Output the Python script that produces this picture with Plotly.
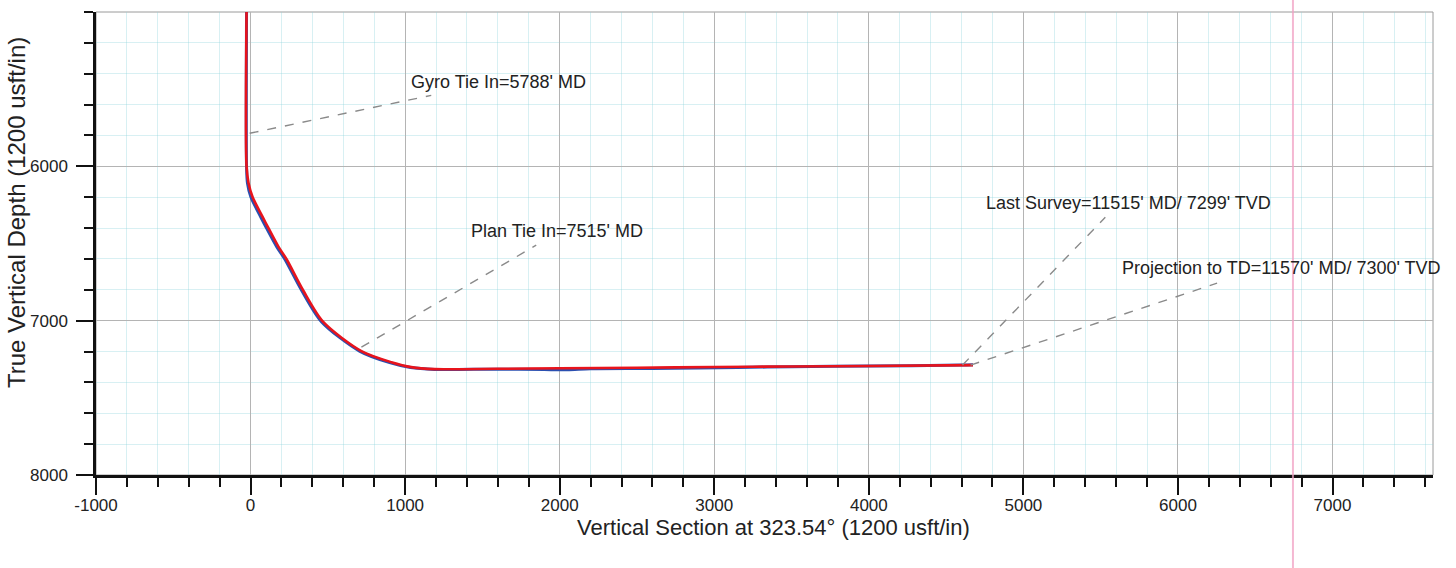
import plotly.graph_objects as go

# ---- data ----
plan_vs = [-26, -26, -13, 13, 78, 116, 181, 233, 340, 470, 717, 911, 1040, 1190,
           1600, 2000, 2500, 3000, 3500, 4000, 4674]
plan_tvd = [5000, 6000, 6110, 6199, 6328, 6401, 6522, 6602, 6803, 7008, 7197, 7269, 7301, 7314,
            7312, 7308, 7305, 7300, 7297, 7294, 7288]

survey_vs = [-26, -26, -20, 2, 66, 104, 170, 222, 330, 460, 705, 900, 1035, 1190,
             1600, 1900, 2050, 2200, 2600, 2900, 3150, 3500, 4000, 4600, 4674]
survey_tvd = [5000, 6000, 6110, 6199, 6328, 6401, 6522, 6602, 6803, 7008, 7197, 7272, 7304, 7316,
              7314, 7317, 7318, 7312, 7310, 7306, 7304, 7298, 7294, 7288, 7286]

callout_labels = ["Gyro Tie In=5788' MD", "Plan Tie In=7515' MD",
                  "Last Survey=11515' MD/ 7299' TVD", "Projection to TD=11570' MD/ 7300' TVD"]
callout_pt_x = [-6, 717, 4606, 4658]
callout_pt_y = [5786, 7172, 7288, 7288]
callout_end_x = [1169, 1848, 5530, 6253]
callout_end_y = [5540, 6511, 6330, 6757]
label_x = [1027, 1415, 4742, 5627]
label_y = [5456, 6421, 6239, 6660]

x_tickvals = [-1000, 0, 1000, 2000, 3000, 4000, 5000, 6000, 7000]
x_ticktext = ["-1000", "0", "1000", "2000", "3000", "4000", "5000", "6000", "7000"]
y_tickvals = [6000, 7000, 8000]
y_ticktext = ["6000", "7000", "8000"]

x_range = [-1000, 7650]
y_range = [8000, 5000]
scan_line_x = 6744

FONT = "Liberation Sans, Arial, sans-serif"
TXT = "#222222"

fig = go.Figure()
fig.add_trace(go.Scatter(x=survey_vs, y=survey_tvd, mode="lines",
                         line=dict(color="#2a4fb0", width=3, shape="spline", smoothing=0.8),
                         showlegend=False))
fig.add_trace(go.Scatter(x=plan_vs, y=plan_tvd, mode="lines",
                         line=dict(color="#e8141c", width=2.6, shape="spline", smoothing=0.8),
                         showlegend=False))

shapes = []
shapes.append(dict(type="rect", xref="paper", yref="paper", x0=0, x1=1, y0=0, y1=1,
                   line=dict(color="#9a9a9a", width=1), layer="below"))
for i in range(len(callout_labels)):
    shapes.append(dict(type="line", xref="x", yref="y",
                       x0=callout_pt_x[i], y0=callout_pt_y[i],
                       x1=callout_end_x[i], y1=callout_end_y[i],
                       line=dict(color="#8a8a8a", width=1.4, dash="dash")))
shapes.append(dict(type="line", xref="x", yref="paper", x0=scan_line_x, x1=scan_line_x,
                   y0=-0.21, y1=1.03, line=dict(color="rgba(240,160,195,0.75)", width=2)))

annotations = []
for i, t in enumerate(callout_labels):
    annotations.append(dict(x=label_x[i], y=label_y[i], xref="x", yref="y", text=t,
                            showarrow=False, xanchor="left", yanchor="middle",
                            font=dict(family=FONT, size=18, color=TXT)))
annotations.append(dict(x=0.507, y=-0.114, xref="paper", yref="paper",
                        text="Vertical Section at 323.54° (1200 usft/in)", showarrow=False,
                        xanchor="center", yanchor="middle",
                        font=dict(family=FONT, size=22, color=TXT)))
annotations.append(dict(x=-0.059, y=0.566, xref="paper", yref="paper",
                        text="True Vertical Depth (1200 usft/in)", showarrow=False,
                        textangle=-90, xanchor="center", yanchor="middle",
                        font=dict(family=FONT, size=24, color=TXT)))

axis_common = dict(
    showline=True, linecolor="#111111", linewidth=2.5, mirror=False,
    ticks="outside", ticklen=17, tickwidth=2, tickcolor="#111111",
    showgrid=True, gridcolor="#b4b4b4", gridwidth=1,
    zeroline=False, automargin=False,
    tickfont=dict(family=FONT, size=17, color=TXT),
    minor=dict(dtick=200, tick0=0, ticks="outside", ticklen=9, tickwidth=1.5, tickcolor="#111111",
               showgrid=True, gridcolor="rgba(140,210,220,0.34)", gridwidth=1),
)

fig.update_layout(
    width=1456, height=568,
    margin=dict(l=96, r=23, t=12, b=93, autoexpand=False),
    paper_bgcolor="white", plot_bgcolor="white",
    xaxis=dict(range=x_range, tickmode="array", tickvals=x_tickvals, ticktext=x_ticktext,
               ticklabelstandoff=-4, **axis_common),
    yaxis=dict(range=y_range, tickmode="array", tickvals=y_tickvals, ticktext=y_ticktext,
               ticklabelstandoff=5, **axis_common),
    shapes=shapes, annotations=annotations,
    showlegend=False,
)

fig.write_html("out.html", config={"displayModeBar": False},
               post_script="document.body.style.margin='0';document.body.style.overflow='hidden';")
